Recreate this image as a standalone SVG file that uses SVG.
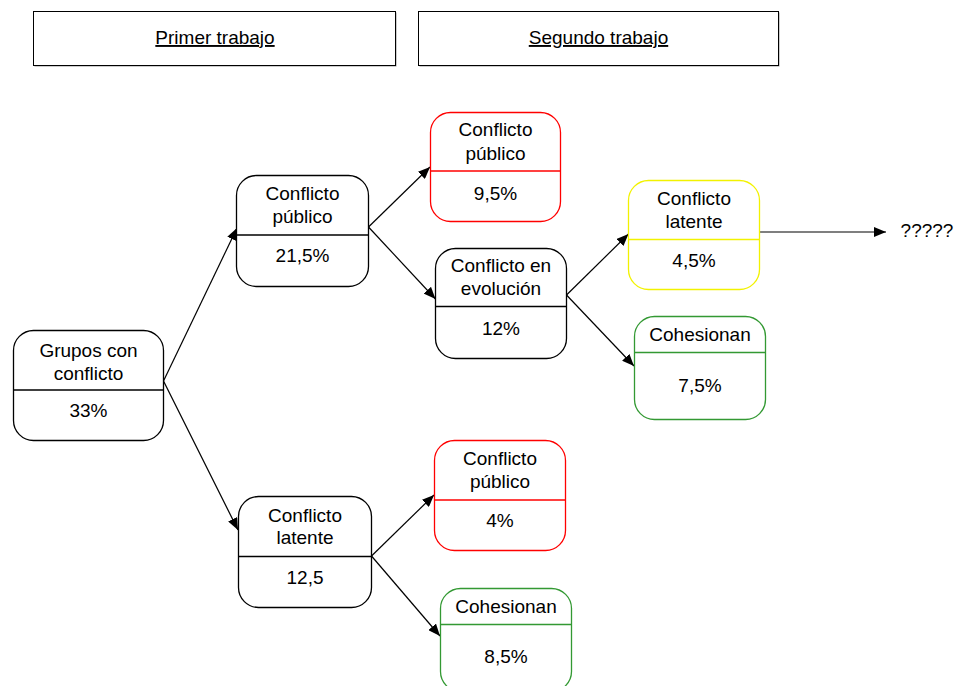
<svg xmlns="http://www.w3.org/2000/svg" width="954" height="686" viewBox="0 0 954 686">
<style>
text{font-family:"Liberation Sans",Arial,sans-serif;font-size:19px;fill:#000;text-anchor:middle}
.hdr{fill:#fff;stroke:#000;stroke-width:1}
.shadow{fill:#999}
.box{fill:#fff;stroke-width:1.3}
.k{stroke:#000}
.r{stroke:#ff0000}
.y{stroke:#f2f200}
.g{stroke:#339933}
.u{text-decoration:underline}
.c line{stroke:#000;stroke-width:1.2;marker-end:url(#ah)}
</style>
<defs>
<marker id="ah" viewBox="0 0 12 10" refX="12" refY="5" markerWidth="12" markerHeight="10" markerUnits="userSpaceOnUse" orient="auto">
<path d="M0,0 L12,5 L0,10 Z" fill="#000"/>
</marker>
</defs>

<g id="header1">
<rect class="shadow" x="34.5" y="12.5" width="362" height="54"/>
<rect class="hdr" x="33.5" y="11.5" width="362" height="54"/>
<text class="u" x="215" y="44">Primer trabajo</text>
</g>
<g id="header2">
<rect class="shadow" x="419.5" y="12.5" width="360" height="54"/>
<rect class="hdr" x="418.5" y="11.5" width="360" height="54"/>
<text class="u" x="598.5" y="44">Segundo trabajo</text>
</g>

<g class="c" id="connectors">
<line x1="163.5" y1="381" x2="237" y2="228"/>
<line x1="163.5" y1="381" x2="238" y2="530"/>
<line x1="368.5" y1="227" x2="430" y2="167"/>
<line x1="368.5" y1="227" x2="435.5" y2="299"/>
<line x1="566.5" y1="295" x2="628.5" y2="234"/>
<line x1="566.5" y1="295" x2="634" y2="366"/>
<line x1="759.5" y1="232" x2="886" y2="232"/>
<line x1="371.5" y1="556" x2="434" y2="495"/>
<line x1="371.5" y1="556" x2="440" y2="636"/>
</g>

<g id="n_grupos">
<rect class="box k" x="13.5" y="330.5" width="150" height="110" rx="20"/>
<line class="k" x1="13.5" y1="390" x2="163.5" y2="390" stroke-width="1.3"/>
<text x="88.5" y="357">Grupos con</text>
<text x="88.5" y="379.5">conflicto</text>
<text x="88.5" y="417">33%</text>
</g>

<g id="n_publico1">
<rect class="box k" x="236.5" y="175.5" width="132" height="111" rx="20"/>
<line class="k" x1="236.5" y1="235" x2="368.5" y2="235" stroke-width="1.3"/>
<text x="302.5" y="200">Conflicto</text>
<text x="302.5" y="223">público</text>
<text x="302.5" y="262">21,5%</text>
</g>

<g id="n_publico2">
<rect class="box r" x="430.5" y="112.5" width="130" height="109" rx="20"/>
<line class="r" x1="430.5" y1="171" x2="560.5" y2="171" stroke-width="1.3"/>
<text x="495.5" y="136">Conflicto</text>
<text x="495.5" y="160">público</text>
<text x="495.5" y="199.5">9,5%</text>
</g>

<g id="n_evolucion">
<rect class="box k" x="435.5" y="248.5" width="131" height="110" rx="20"/>
<line class="k" x1="435.5" y1="306.5" x2="566.5" y2="306.5" stroke-width="1.3"/>
<text x="501" y="272">Conflicto en</text>
<text x="501" y="295">evolución</text>
<text x="501" y="335">12%</text>
</g>

<g id="n_latente2">
<rect class="box y" x="628.5" y="180.5" width="131" height="109" rx="20"/>
<line class="y" x1="628.5" y1="239.5" x2="759.5" y2="239.5" stroke-width="1.3"/>
<text x="694" y="204.5">Conflicto</text>
<text x="694" y="227.5">latente</text>
<text x="694" y="267">4,5%</text>
</g>

<g id="n_unknown">
<text x="927" y="237">?????</text>
</g>

<g id="n_cohesionan1">
<rect class="box g" x="634.5" y="316.5" width="131" height="103" rx="20"/>
<line class="g" x1="634.5" y1="352.5" x2="765.5" y2="352.5" stroke-width="1.3"/>
<text x="700" y="341">Cohesionan</text>
<text x="700" y="392">7,5%</text>
</g>

<g id="n_latente1">
<rect class="box k" x="238.5" y="496.5" width="133" height="111" rx="20"/>
<line class="k" x1="238.5" y1="556.5" x2="371.5" y2="556.5" stroke-width="1.3"/>
<text x="305" y="522">Conflicto</text>
<text x="305" y="544">latente</text>
<text x="305" y="583.5">12,5</text>
</g>

<g id="n_publico3">
<rect class="box r" x="434.5" y="440.5" width="131" height="110" rx="20"/>
<line class="r" x1="434.5" y1="500" x2="565.5" y2="500" stroke-width="1.3"/>
<text x="500" y="465">Conflicto</text>
<text x="500" y="487.5">público</text>
<text x="500" y="527">4%</text>
</g>

<g id="n_cohesionan2">
<rect class="box g" x="440.5" y="588.5" width="131" height="103" rx="20"/>
<line class="g" x1="440.5" y1="624.5" x2="571.5" y2="624.5" stroke-width="1.3"/>
<text x="506" y="612.5">Cohesionan</text>
<text x="506" y="663">8,5%</text>
</g>
</svg>
